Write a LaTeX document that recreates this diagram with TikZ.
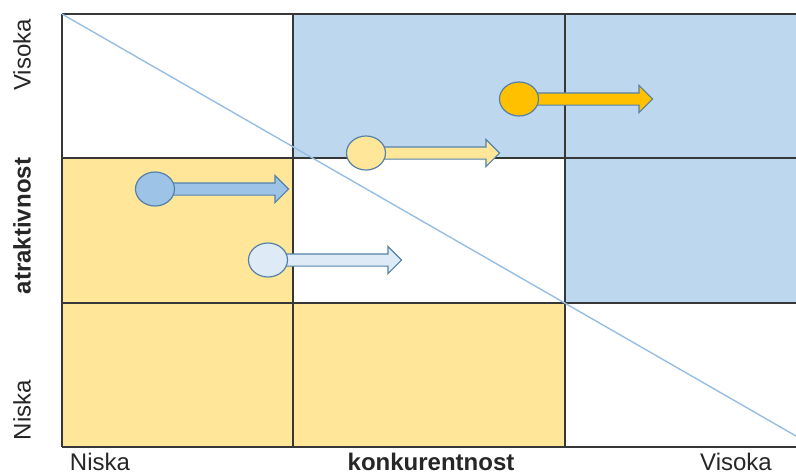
\documentclass[tikz,border=0pt]{standalone}
\usepackage{fontspec}
\setmainfont{Liberation Sans}
\usetikzlibrary{shapes.geometric,shapes.arrows}
\definecolor{cellblue}{RGB}{189,215,238}
\definecolor{cellyellow}{RGB}{255,230,153}
\definecolor{gridgray}{RGB}{55,55,55}
\definecolor{diagblue}{RGB}{150,190,228}
\definecolor{rimblue}{RGB}{84,130,170}
\definecolor{dotorange}{RGB}{255,192,0}
\definecolor{dotyellow}{RGB}{255,230,153}
\definecolor{dotblue}{RGB}{157,195,230}
\definecolor{dotpale}{RGB}{222,235,247}
\tikzset{
  dot/.style={ellipse, draw=rimblue, line width=1.2pt, minimum width=39pt, minimum height=34pt, inner sep=0pt},
  blockarrow/.style={single arrow, draw=rimblue, line width=1.2pt, inner xsep=0pt, inner ysep=5.5pt,
    single arrow head extend=7.5pt, minimum height=133pt, anchor=tail},
  axislabel/.style={font=\fontsize{24}{28}\selectfont, text=black!85},
}
\begin{document}
\begin{tikzpicture}[x=1pt,y=-1pt]
	\useasboundingbox (0,0) rectangle (796,475);
	% cells
	\fill[cellblue] (293,14) rectangle (796,158);
	\fill[cellblue] (565,158) rectangle (796,303);
	\fill[cellyellow] (62,158) rectangle (293,303);
	\fill[cellyellow] (62,303) rectangle (565,447);
	% grid
	\draw[gridgray, line width=1.7pt] (62,14) -- (796,14);
	\draw[gridgray, line width=1.7pt] (62,158) -- (796,158);
	\draw[gridgray, line width=1.7pt] (62,303) -- (796,303);
	\draw[gridgray, line width=1.7pt] (62,447) -- (796,447);
	\draw[gridgray, line width=1.7pt] (62,14) -- (62,447);
	\draw[gridgray, line width=1.7pt] (293,14) -- (293,447);
	\draw[gridgray, line width=1.7pt] (565,14) -- (565,447);
	\draw[diagblue, line width=1.4pt] (62,14) -- (796,436);
	% arrows with dots
	\node[blockarrow, fill=dotorange] (a1) at (519,99) {};
	\node[dot, fill=dotorange] (d1) at (519,99) {};
	\node[blockarrow, fill=dotyellow] (a2) at (366,153) {};
	\node[dot, fill=dotyellow] (d2) at (366,153) {};
	\node[blockarrow, fill=dotblue] (a3) at (155,189) {};
	\node[dot, fill=dotblue] (d3) at (155,189) {};
	\node[blockarrow, fill=dotpale] (a4) at (268,260) {};
	\node[dot, fill=dotpale] (d4) at (268,260) {};
	% labels
	\node[axislabel, rotate=90] (yhi) at (22,55) {Visoka};
	\node[axislabel, rotate=90, font=\fontsize{24}{28}\selectfont\bfseries] (ytitle) at (22,226) {atraktivnost};
	\node[axislabel, rotate=90] (ylo) at (22,410) {Niska};
	\node[axislabel] (xlo) at (100,462) {Niska};
	\node[axislabel, font=\fontsize{24}{28}\selectfont\bfseries] (xtitle) at (431,462) {konkurentnost};
	\node[axislabel] (xhi) at (736,462) {Visoka};
\end{tikzpicture}
\end{document}
